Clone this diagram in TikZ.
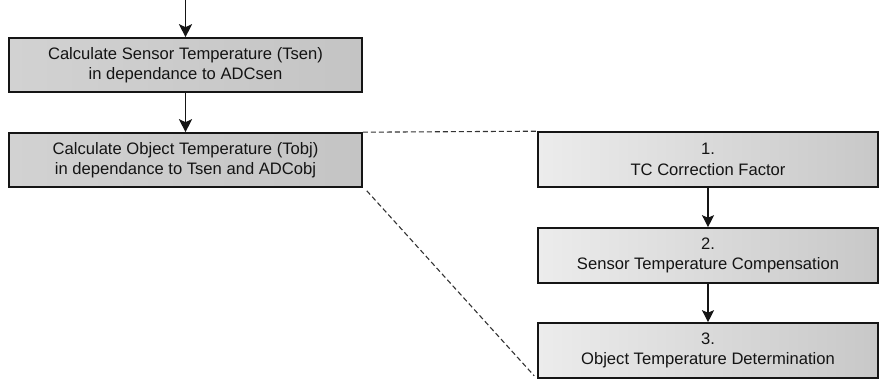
\documentclass[tikz,border=0pt]{standalone}
\usepackage{fontspec}
\setmainfont{Liberation Sans}
\usetikzlibrary{arrows.meta,positioning}
\definecolor{ink}{HTML}{141414}
\definecolor{frame}{HTML}{151515}
\definecolor{stepdark}{HTML}{C4C4C4}
\definecolor{steplight}{HTML}{D2D2D2}
\definecolor{subdark}{HTML}{C8C8C8}
\definecolor{sublight}{HTML}{ECECEC}
\definecolor{guide}{HTML}{333333}

\begin{document}
\begin{tikzpicture}[
  x=1pt, y=-1pt,
  font=\fontsize{16.6}{20.5}\selectfont,
  flow/.style={-{Stealth[length=13pt, width=13pt, inset=3pt]}, line width=1.9pt, draw=frame},
  subflow/.style={-{Stealth[length=12pt, width=12pt, inset=2.5pt]}, line width=1.3pt, draw=frame},
  zoomline/.style={draw=guide, line width=1.1pt, dash pattern=on 5pt off 3pt},
  stepbox/.style={draw=frame, line width=1.6pt, align=center, text=ink,
                  inner sep=0pt, minimum width=353pt, minimum height=54pt,
                  left color=steplight, right color=stepdark},
  subbox/.style={stepbox, minimum width=340pt, minimum height=55pt,
                 left color=sublight, right color=subdark}
]
\useasboundingbox (0,0) rectangle (882,379);

\coordinate (entry) at (185.5,0);
\node[stepbox] (tsen) at (185.5,65)
  {Calculate Sensor Temperature (Tsen)\\in dependance to ADCsen};
\node[stepbox] (tobj) at (185.5,160)
  {Calculate Object Temperature (Tobj)\\in dependance to Tsen and ADCobj};
\draw[flow] (entry) -- (tsen);
\draw[flow] (tsen) -- (tobj);

\node[subbox] (tc) at (708,159.5)
  {1.\\TC Correction Factor};
\node[subbox] (comp) at (708,255.5)
  {2.\\Sensor Temperature Compensation};
\node[subbox] (det) at (708,350.5)
  {3.\\Object Temperature Determination};
\draw[subflow] (tc) -- (comp);
\draw[subflow] (comp) -- (det);

\draw[zoomline] (tobj.north east) -- (tc.north west);
\draw[zoomline] ([shift={(4,3)}]tobj.south east) -- ([shift={(-3,-3)}]det.south west);

\end{tikzpicture}
\end{document}
